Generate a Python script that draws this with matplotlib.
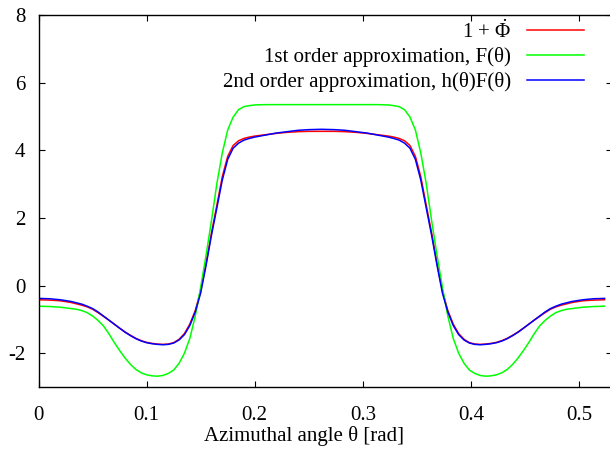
import matplotlib
matplotlib.use("Agg")
import matplotlib.pyplot as plt

plt.rcParams['font.family'] = ['Liberation Serif', 'DejaVu Serif']
plt.rcParams['mathtext.fontset'] = 'custom'
plt.rcParams['mathtext.rm'] = 'Liberation Serif'
plt.rcParams['mathtext.it'] = 'Liberation Serif:italic'
plt.rcParams['axes.unicode_minus'] = False

# azimuthal angle samples [rad]
theta = [0.0, 0.01, 0.02, 0.03, 0.035, 0.04, 0.045, 0.05, 0.055, 0.06, 0.065, 0.07,
         0.075, 0.08, 0.085, 0.09, 0.095, 0.10, 0.105, 0.11, 0.115, 0.12, 0.125, 0.13,
         0.135, 0.14, 0.145, 0.15, 0.155, 0.16, 0.165, 0.17, 0.175, 0.18, 0.185, 0.19,
         0.195, 0.20, 0.21, 0.22, 0.23, 0.24, 0.25, 0.2618,
         0.2736, 0.2836, 0.2936, 0.3036, 0.3136, 0.3236, 0.3286, 0.3336, 0.3386, 0.3436,
         0.3486, 0.3536, 0.3586, 0.3636, 0.3686, 0.3736, 0.3786, 0.3836, 0.3886, 0.3936,
         0.3986, 0.4036, 0.4086, 0.4136, 0.4186, 0.4236, 0.4286, 0.4336, 0.4386, 0.4436,
         0.4486, 0.4536, 0.4586, 0.4636, 0.4686, 0.4736, 0.4786, 0.4836, 0.4886, 0.4936,
         0.5036, 0.5136, 0.5236]

# 1 + dPhi/dt
exact = [-0.42, -0.43, -0.45, -0.50, -0.54, -0.58, -0.63, -0.70, -0.80, -0.91, -1.02, -1.14,
         -1.26, -1.37, -1.47, -1.56, -1.63, -1.68, -1.71, -1.73, -1.74, -1.73, -1.69, -1.59,
         -1.42, -1.14, -0.74, -0.16, 0.66, 1.56, 2.38, 3.22, 3.82, 4.14, 4.28, 4.35,
         4.39, 4.42, 4.46, 4.50, 4.53, 4.55, 4.56, 4.56,
         4.56, 4.55, 4.53, 4.50, 4.46, 4.42, 4.39, 4.35, 4.28, 4.14,
         3.82, 3.22, 2.38, 1.56, 0.66, -0.16, -0.74, -1.14, -1.42, -1.59,
         -1.69, -1.73, -1.74, -1.73, -1.71, -1.68, -1.63, -1.56, -1.47, -1.37,
         -1.26, -1.14, -1.02, -0.91, -0.80, -0.70, -0.63, -0.58, -0.54, -0.50,
         -0.45, -0.43, -0.42]

# F(theta)
first = [-0.61, -0.62, -0.64, -0.68, -0.70, -0.74, -0.80, -0.90, -1.03, -1.19, -1.42, -1.68,
         -1.92, -2.14, -2.33, -2.48, -2.58, -2.64, -2.67, -2.68, -2.66, -2.60, -2.50, -2.30,
         -2.00, -1.56, -0.90, -0.05, 0.90, 1.92, 3.02, 3.92, 4.60, 4.98, 5.20, 5.29,
         5.32, 5.34, 5.35, 5.35, 5.35, 5.35, 5.35, 5.35,
         5.35, 5.35, 5.35, 5.35, 5.35, 5.34, 5.32, 5.29, 5.20, 4.98,
         4.60, 3.92, 3.02, 1.92, 0.90, -0.05, -0.90, -1.56, -2.00, -2.30,
         -2.50, -2.60, -2.66, -2.68, -2.67, -2.64, -2.58, -2.48, -2.33, -2.14,
         -1.92, -1.68, -1.42, -1.19, -1.03, -0.90, -0.80, -0.74, -0.70, -0.68,
         -0.64, -0.62, -0.61]

# h(theta)F(theta)
second = [-0.38, -0.39, -0.42, -0.47, -0.51, -0.55, -0.61, -0.68, -0.78, -0.90, -1.02, -1.14,
          -1.26, -1.38, -1.48, -1.57, -1.64, -1.69, -1.72, -1.74, -1.75, -1.74, -1.70, -1.61,
          -1.45, -1.18, -0.78, -0.22, 0.60, 1.49, 2.30, 3.12, 3.73, 4.06, 4.21, 4.30,
          4.35, 4.39, 4.45, 4.51, 4.55, 4.59, 4.61, 4.62,
          4.61, 4.59, 4.55, 4.51, 4.45, 4.39, 4.35, 4.30, 4.21, 4.06,
          3.73, 3.12, 2.30, 1.49, 0.60, -0.22, -0.78, -1.18, -1.45, -1.61,
          -1.70, -1.74, -1.75, -1.74, -1.72, -1.69, -1.64, -1.57, -1.48, -1.38,
          -1.26, -1.14, -1.02, -0.90, -0.78, -0.68, -0.61, -0.55, -0.51, -0.47,
          -0.42, -0.39, -0.38]

xticks = [0, 0.1, 0.2, 0.3, 0.4, 0.5]
xticklabels = ['0', '0.1', '0.2', '0.3', '0.4', '0.5']
yticks = [-2, 0, 2, 4, 6, 8]

W, H = 610, 455
fs = 15
fig = plt.figure(figsize=(W / 100, H / 100), dpi=100)
ax = fig.add_axes([38.5 / W, 68 / H, 573 / W, 372 / H])

ax.plot(theta, exact, color='#ff0000', lw=1.1, label=r'1 + $\dot{\Phi}$')
ax.plot(theta, first, color='#00ff00', lw=1.1, label='1st order approximation, F(θ)')
ax.plot(theta, second, color='#0000ff', lw=1.1, label='2nd order approximation, h(θ)F(θ)')

ax.set_xlim(0, 0.53)
ax.set_ylim(-3, 8)
ax.set_xticks(xticks)
ax.set_xticklabels(xticklabels)
ax.set_yticks(yticks)
ax.tick_params(direction='in', length=4.5, width=0.8, labelsize=fs,
               top=True, right=True, color='black')
ax.tick_params(axis='x', pad=14)
ax.tick_params(axis='y', pad=9.5)
for s in ax.spines.values():
    s.set_linewidth(1.0)

ax.set_xlabel('Azimuthal angle θ [rad]', fontsize=fs)
ax.xaxis.set_label_coords(0.4626, -0.106)

leg = ax.legend(loc='upper right', bbox_to_anchor=(584 / W, 1 - 20 / H),
                bbox_transform=fig.transFigure, frameon=False, markerfirst=False,
                fontsize=fs, handlelength=2.75, handletextpad=0.75,
                labelspacing=0.22, borderpad=0, borderaxespad=0)

fig.savefig('out.png', dpi=100)
